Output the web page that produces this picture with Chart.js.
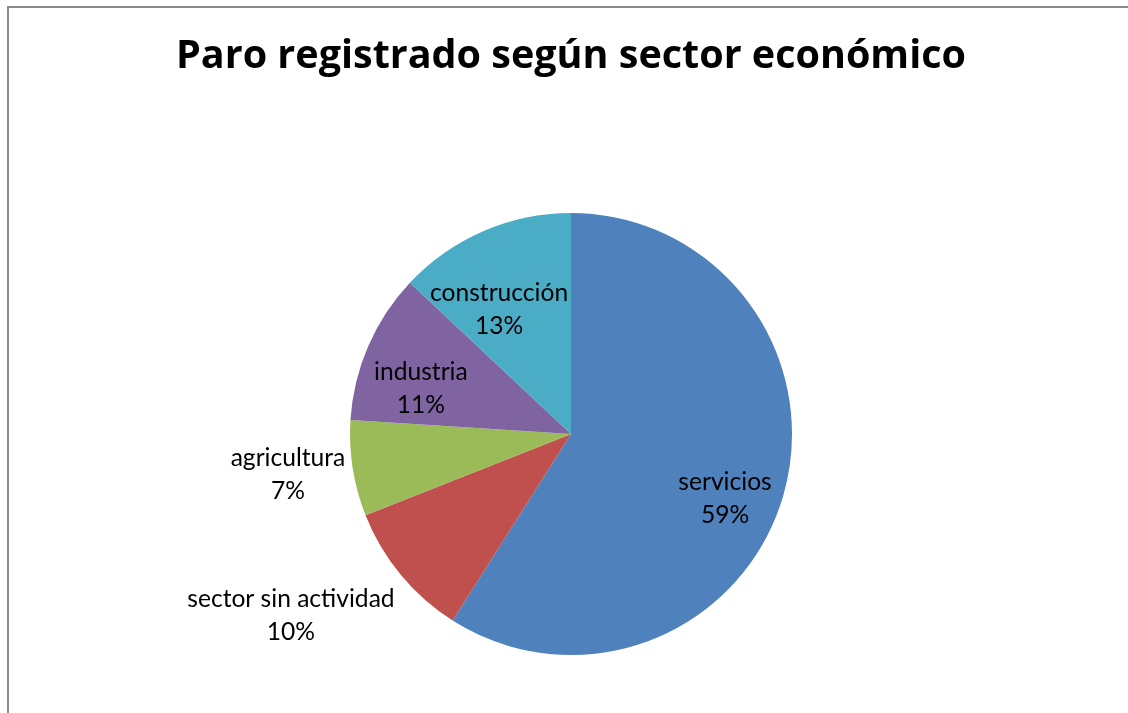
<!DOCTYPE html>
<html>
<head>
<meta charset="utf-8">
<script src="https://cdn.jsdelivr.net/npm/chart.js@4/dist/chart.umd.min.js"></script>
<style>
html,body{margin:0;padding:0;background:#fff;overflow:hidden;}
#wrap{position:relative;width:1128px;height:713px;}
#frame{position:absolute;left:7px;top:6px;width:1300px;height:900px;border-left:2px solid #8a8a8a;border-top:2px solid #8a8a8a;pointer-events:none;}
canvas{position:absolute;left:0;top:0;}
</style>
</head>
<body>
<div id="wrap">
<canvas id="c" width="1128" height="713"></canvas>
<div id="frame"></div>
</div>
<script>
const categories = ["servicios", "sector sin actividad", "agricultura", "industria", "construcción"];
const values = [59, 10, 7, 11, 13];
const colors = ["#4F81BD", "#C0504D", "#9BBB59", "#8064A2", "#4BACC6"];
const titleText = "Paro registrado según sector económico";

// label placement relative to each slice: radial factor and angle offset (deg)
const labelRadius = [0.755, 1.511, 1.294, 0.709, 0.649];
const labelAngleOffset = [6.4, 6.6, 0.8, -6.7, -6.7];

const total = values.reduce((a, b) => a + b, 0);

const labelPlugin = {
  id: 'sliceLabels',
  afterDatasetsDraw(chart) {
    const ctx = chart.ctx;
    const meta = chart.getDatasetMeta(0);
    ctx.save();
    ctx.fillStyle = '#000';
    ctx.font = '24.6px Lato';
    ctx.textAlign = 'center';
    ctx.textBaseline = 'middle';
    meta.data.forEach((arc, i) => {
      const p = arc.getProps(['x', 'y', 'startAngle', 'endAngle', 'outerRadius'], true);
      const mid = (p.startAngle + p.endAngle) / 2 + labelAngleOffset[i] * Math.PI / 180;
      const r = p.outerRadius * labelRadius[i];
      const cx = p.x + Math.cos(mid) * r;
      const cy = p.y + Math.sin(mid) * r;
      const pct = Math.round(values[i] / total * 100) + '%';
      ctx.fillText(categories[i], cx, cy - 16.5);
      ctx.fillText(pct, cx, cy + 16.5);
    });
    ctx.restore();
  }
};

new Chart(document.getElementById('c'), {
  type: 'pie',
  data: {
    labels: categories,
    datasets: [{
      data: values,
      backgroundColor: colors,
      borderWidth: 0
    }]
  },
  options: {
    responsive: false,
    animation: false,
    layout: { padding: { left: 14, right: 0, top: 0, bottom: 58 } },
    plugins: {
      legend: { display: false },
      tooltip: { enabled: false },
      title: {
        display: true,
        text: titleText,
        color: '#000',
        font: { family: "'Open Sans'", size: 39.5, weight: 'bold', lineHeight: 1.2 },
        padding: { top: 33.3, bottom: 132.3 }
      }
    }
  },
  plugins: [labelPlugin]
});
</script>
</body>
</html>
